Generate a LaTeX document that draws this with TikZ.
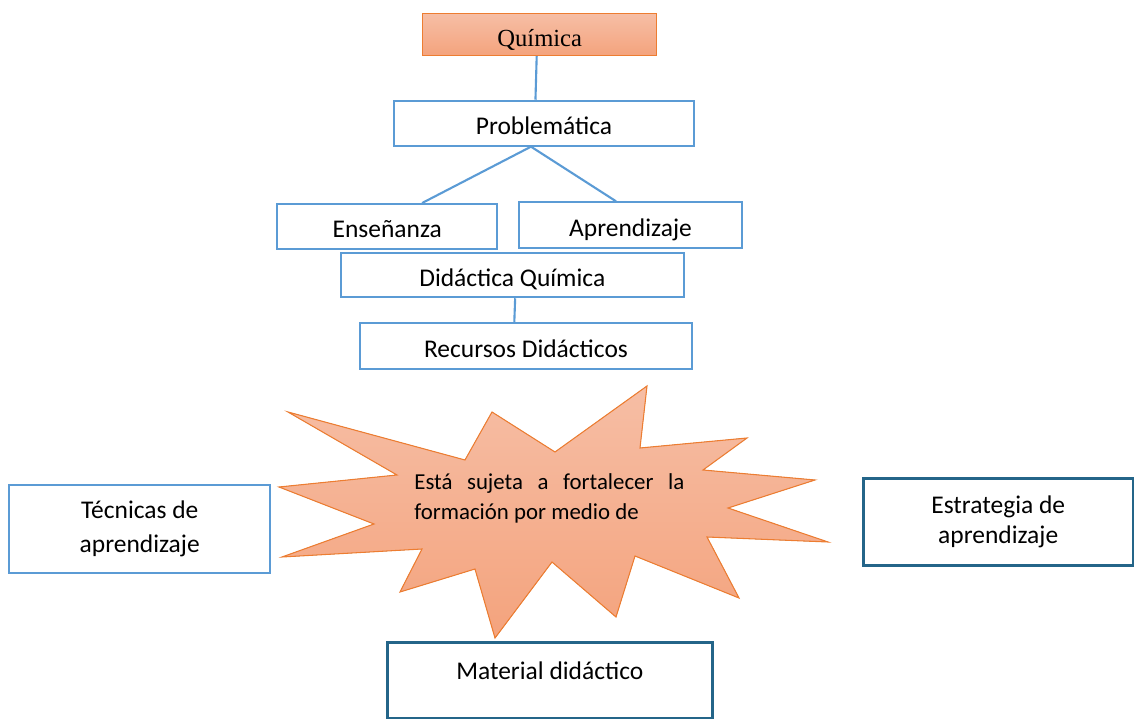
\documentclass[tikz,border=0pt]{standalone}
\usepackage{fontspec}
\setmainfont{Carlito}
\newfontfamily\quimfont{Liberation Serif}
\hyphenpenalty=10000

\definecolor{azulclaro}{RGB}{91,155,213}
\definecolor{azuloscuro}{RGB}{36,101,137}
\definecolor{naranja}{RGB}{237,125,49}
\definecolor{naranjaclaro}{RGB}{246,190,165}
\definecolor{naranjafuerte}{RGB}{244,163,125}
\newcommand{\pxu}{0.02cm}

\tikzset{
  caja/.style={draw=azulclaro, line width=1.1pt, inner sep=0pt, align=center,
    font=\fontsize{14.5}{19}\selectfont},
  cajalinea/.style={caja, text height=1.3em, text depth=0pt},
  cajaoscura/.style={caja, draw=azuloscuro, line width=1.7pt},
  naranjado/.style={draw=naranja, line width=0.6pt, top color=naranjaclaro,
    bottom color=naranjafuerte},
  enlace/.style={draw=azulclaro, line width=1.2pt},
  lema/.style={anchor=north west, inner sep=0pt, text width=270*\pxu,
    align=justify, font=\fontsize{13}{17}\selectfont}
}

\begin{document}
\begin{tikzpicture}[x=\pxu, y=-\pxu]
		\useasboundingbox (0,0) rectangle (1134,719);
		
		% Cadena superior
		\node[cajalinea, naranjado, minimum width=233.5*\pxu, minimum height=41.7*\pxu,
		  font=\quimfont\fontsize{14}{17}\selectfont] (quimica) at (539.7,34.8) {Química};
		\node[cajalinea, minimum width=300*\pxu, minimum height=45*\pxu] (problematica) at (544,123.2) {Problemática};
		\node[cajalinea, minimum width=220*\pxu, minimum height=45*\pxu] (ensenanza) at (387.3,226.5) {Enseñanza};
		\node[cajalinea, minimum width=222.4*\pxu, minimum height=46*\pxu] (aprendizaje) at (630.5,225.3) {Aprendizaje};
		\node[cajalinea, minimum width=343.3*\pxu, minimum height=44.6*\pxu] (didactica) at (512.3,275) {Didáctica Química};
		\node[cajalinea, minimum width=332*\pxu, minimum height=46*\pxu] (recursos) at (526,346) {Recursos Didácticos};
		
		% Conectores
		\draw[enlace] (quimica.262) -- (problematica.110);
		\draw[enlace] (problematica.241) -- (ensenanza.34);
		\draw[enlace] (problematica.241) -- (aprendizaje.121);
		\draw[enlace] (didactica.277) -- (recursos.116);
		
		% Estrella central
		\filldraw[naranjado, line join=miter] (288,412) -- (465,460) -- (492,412) -- (555,452)
		  -- (647,386) -- (640,448) -- (747,438) -- (703,470) -- (815,480) -- (728,508)
		  -- (828,542) -- (707,537) -- (739,598) -- (635,556) -- (616,617) -- (552,562)
		  -- (495,638) -- (475,569) -- (400,592) -- (422,549) -- (282,557) -- (374,524)
		  -- (279,487) -- (397,475) -- cycle;
		\node[lema] (lema) at (414,473) {Está sujeta a fortalecer la formación por medio de};
		
		% Cajas inferiores
		\node[caja, minimum width=260.7*\pxu, minimum height=87.7*\pxu] (tecnicas) at (139.7,529) {Técnicas de\\aprendizaje};
		\node[cajaoscura, minimum width=269.7*\pxu, minimum height=86.7*\pxu,
		  font=\fontsize{14.5}{17}\selectfont] (estrategia) at (998.2,521.7) {Estrategia de\\aprendizaje};
		\node[cajaoscura, minimum width=325*\pxu, minimum height=75.8*\pxu,
		  text height=0.65em, text depth=0.78em] (material) at (549.8,680.6) {Material didáctico};
		
\end{tikzpicture}
\end{document}
